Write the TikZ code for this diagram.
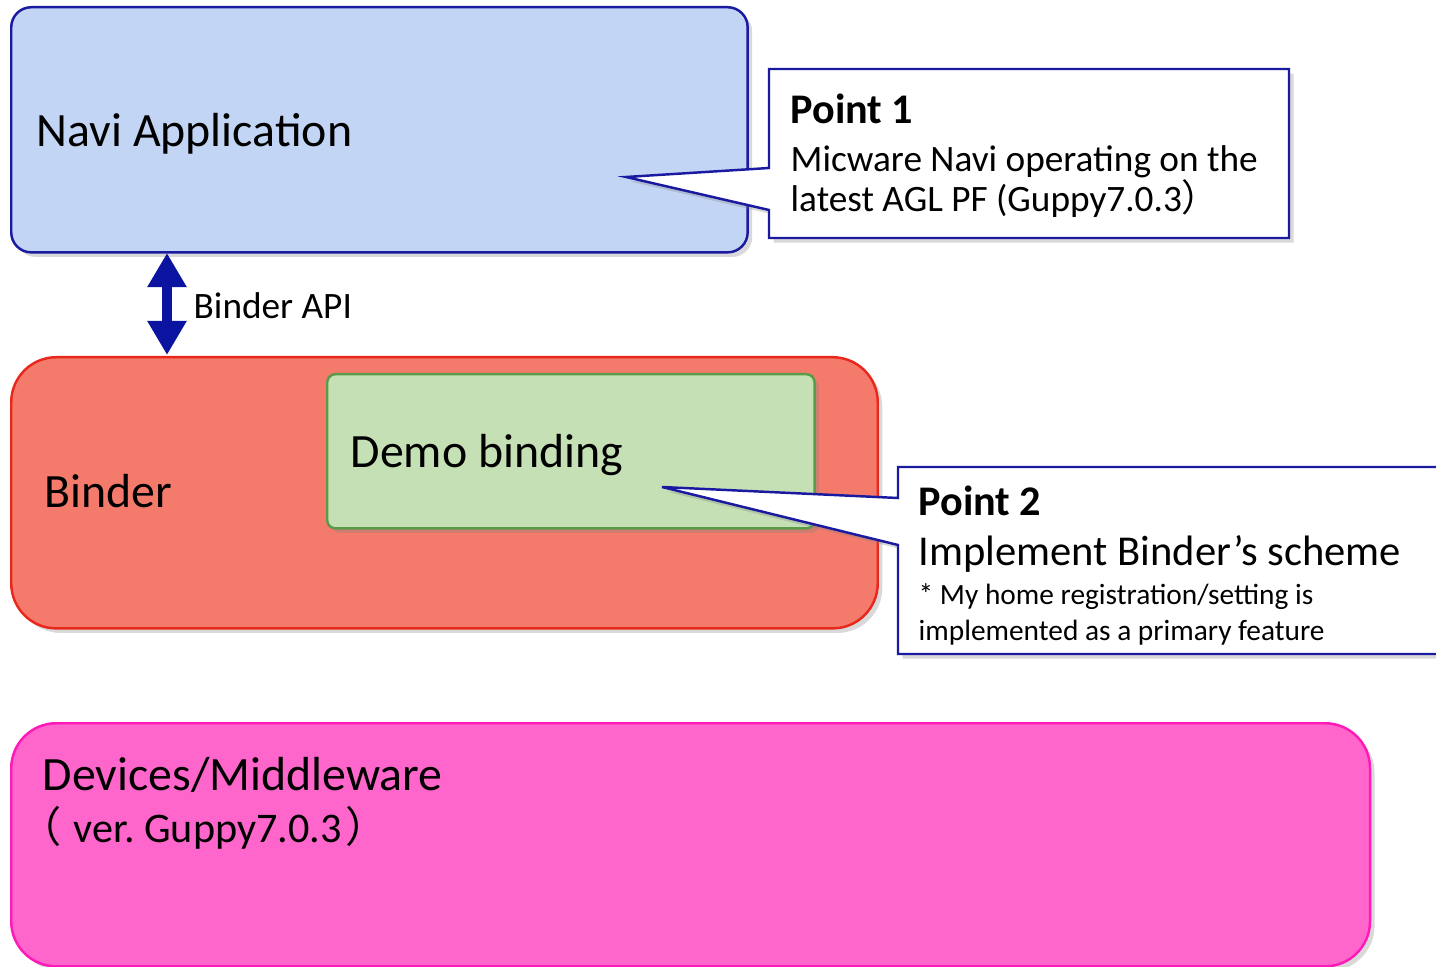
\documentclass[tikz,border=0pt]{standalone}
\usepackage{fontspec}
\setmainfont{Carlito}
\newfontfamily\cjkparen{Noto Sans CJK JP}
\usetikzlibrary{arrows.meta,shadows}
\definecolor{naviblue}{HTML}{C2D5F5}
\definecolor{navidraw}{HTML}{1A1AA0}
\definecolor{bindred}{HTML}{F47B6B}
\definecolor{binddraw}{HTML}{E8281C}
\definecolor{demogreen}{HTML}{C6E0B5}
\definecolor{demodraw}{HTML}{5A9A48}
\definecolor{devpink}{HTML}{FF66CC}
\definecolor{devdraw}{HTML}{FF19B8}
\definecolor{apiblue}{HTML}{0A14A0}
\frenchspacing
\begin{document}
\begin{tikzpicture}[x=0.01cm,y=-0.01cm,
	layer/.style={draw,line width=0.7pt,anchor=north west,inner sep=0pt,
		drop shadow={opacity=0.3,shadow xshift=1.3pt,shadow yshift=-1.3pt}},
	label/.style={anchor=base west,inner sep=0pt,font=\fontsize{13.6}{16}\selectfont},
	note/.style={draw=navidraw,line width=0.7pt,fill=white,
		drop shadow={opacity=0.3,shadow xshift=1.3pt,shadow yshift=-1.3pt}},
	notetext/.style={anchor=base west,inner sep=0pt,font=\fontsize{10.6}{12}\selectfont}]
	\useasboundingbox (0,0) rectangle (1436,967);
	% layers
	\node[layer,fill=naviblue,draw=navidraw,rounded corners=0.2cm,
		minimum width=7.36cm,minimum height=2.45cm] (navi) at (10,6) {};
	\node[layer,fill=bindred,draw=binddraw,rounded corners=0.45cm,
		minimum width=8.66cm,minimum height=2.71cm] (binder) at (10,356) {};
	\node[layer,fill=demogreen,draw=demodraw,rounded corners=0.08cm,
		minimum width=4.87cm,minimum height=1.54cm] (demo) at (326,373) {};
	\node[layer,fill=devpink,draw=devdraw,rounded corners=0.45cm,
		minimum width=13.58cm,minimum height=2.43cm] (dev) at (10,722) {};
	\node[label] (navilbl) at (36,147) {Navi Application};
	\node[label] (bindlbl) at (44,508) {Binder};
	\node[label] (demolbl) at (350,468) {Demo binding};
	\node[label] (devlbl) at (42,790) {Devices/Middleware};
	\node[label,font=\fontsize{12}{14}\selectfont] (verlbl) at (42,842)
		{{\cjkparen\kern-0.56em（\kern0.3em}ver. Guppy7.0.3{\kern0.1em\cjkparen ）}};
	% binder api
	\coordinate (apitop) at (167,253);
	\coordinate (apibot) at (167,355);
	\draw[apiblue,line width=0.1cm,{Triangle[width=0.37cm,length=0.34cm]}-{Triangle[width=0.37cm,length=0.34cm]}] (apitop) -- (apibot);
	\node[anchor=west,inner sep=0pt,font=\fontsize{10.6}{12}\selectfont] (api) at (193,306) {Binder API};
	% point 1
	\draw[note] (769,69) -- (1289,69) -- (1289,238) -- (769,238) -- (769,210)
		-- (626,177) -- (769,168) -- cycle;
	\node[notetext,font=\fontsize{12}{14}\selectfont\bfseries] (p1) at (790,124) {Point 1};
	\node[notetext] (p1a) at (790,172) {Micware Navi operating on the};
	\node[notetext] (p1b) at (790,212) {latest AGL PF (Guppy7.0.3{\cjkparen ）}};
	% point 2
	\draw[note] (898,467) -- (1440,467) -- (1440,654) -- (898,654) -- (898,545)
		-- (662,487) -- (898,498) -- cycle;
	\node[notetext,font=\fontsize{12}{14}\selectfont\bfseries] (p2) at (918,515) {Point 2};
	\node[notetext,font=\fontsize{12.1}{14}\selectfont] (p2a) at (918,566) {Implement Binder’s scheme};
	\node[notetext,font=\fontsize{8.35}{10}\selectfont] (p2b) at (918,605) {* My home registration/setting is};
	\node[notetext,font=\fontsize{8.35}{10}\selectfont] (p2c) at (918,640) {implemented as a primary feature};
\end{tikzpicture}
\end{document}
